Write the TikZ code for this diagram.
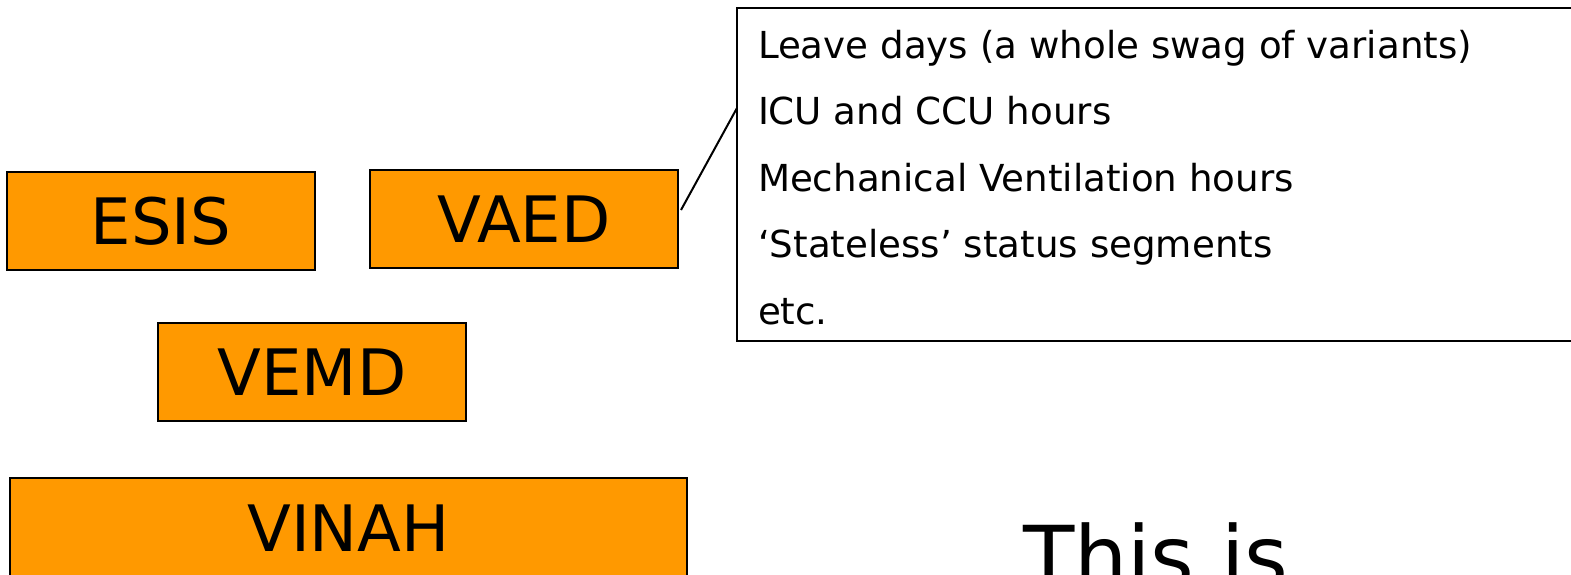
\documentclass[tikz,border=0pt]{standalone}
\usepackage{fontspec}
\setmainfont{DejaVu Sans}
\usepackage{xcolor}
\usepackage{tikz}
\definecolor{boxorange}{HTML}{FF9900}

\begin{document}
\begin{tikzpicture}[x=0.5pt, y=-0.5pt, every node/.style={inner sep=0pt, outer sep=0pt},
  dataset/.style={draw, line width=1pt, fill=boxorange, minimum width=154pt, minimum height=49pt, anchor=north west, font=\fontsize{32}{38}\selectfont},
  noteline/.style={anchor=base west, font=\fontsize{18.6}{22}\selectfont}]
  \useasboundingbox (0,0) rectangle (1571,574);
  \node[dataset] (esis) at (7,172) {ESIS};
  \node[dataset] (vaed) at (370,170) {VAED};
  \node[dataset] (vemd) at (158,323) {VEMD};
  \node[dataset, minimum width=338.5pt, minimum height=50pt] (vinah) at (10,478) {VINAH};
  \node[draw, line width=1pt, anchor=north west, minimum width=450pt, minimum height=166.5pt] (notes) at (737,8) {};
  \foreach \txt [count=\i from 0] in {{Leave days (a whole swag of variants)}, {ICU and CCU hours}, {Mechanical Ventilation hours}, {`Stateless' status segments}, {etc.}}
    \node[noteline] (line\i) at (758,58+66.5*\i) {\txt};
  \draw[line width=1pt] ([shift={(1.5pt,4.5pt)}]vaed.east) -- ([yshift=33.25pt]notes.west);
  \node[anchor=base west, font=\fontsize{42}{50}\selectfont] (thisis) at (1023,586) {This is};
\end{tikzpicture}
\end{document}
